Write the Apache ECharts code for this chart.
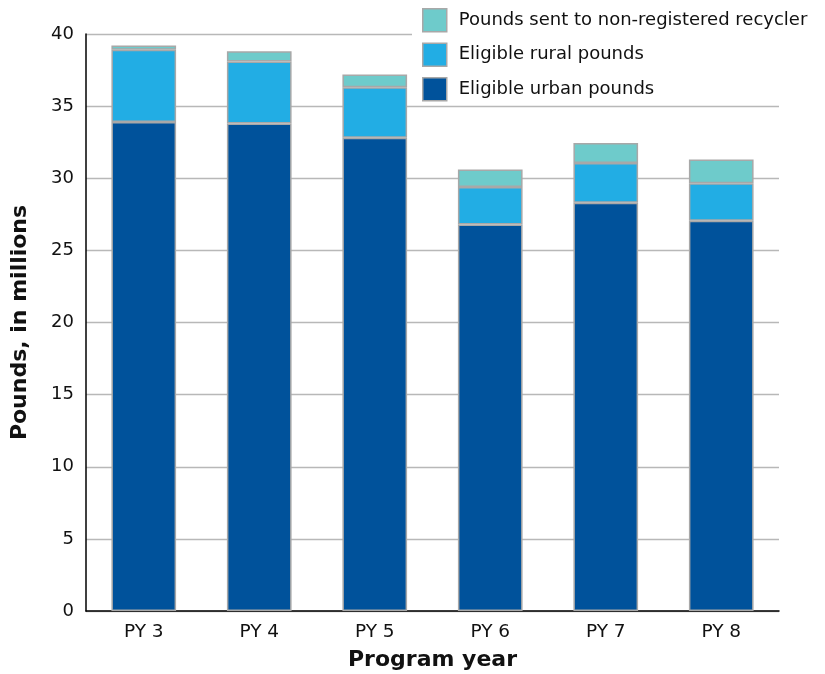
<!DOCTYPE html>
<html><head><meta charset="utf-8">
<script src="https://cdn.jsdelivr.net/npm/echarts@6/dist/echarts.min.js"></script>
<style>html,body{margin:0;padding:0;background:#fff}#c{width:825px;height:674px}</style>
</head><body><div id="c"></div>
<script>
const categories = ['PY 3','PY 4','PY 5','PY 6','PY 7','PY 8'];
const urban = [33.9, 33.8, 32.8, 26.8, 28.3, 27.05];
const rural = [5.0, 4.3, 3.5, 2.6, 2.75, 2.6];
const nonRegistered = [0.3, 0.7, 0.9, 1.2, 1.4, 1.65];
const seriesNames = ['Eligible urban pounds','Eligible rural pounds','Pounds sent to non-registered recycler'];
const colors = ['#00529b','#22ade4','#6ecbcb'];
const font = '"DejaVu Sans", "Open Sans", sans-serif';

const chart = echarts.init(document.getElementById('c'), null, {renderer:'canvas'});
const mk = (name, data, color) => ({
  name, type:'bar', stack:'total', data, barWidth:'56%',
  itemStyle:{color, borderColor:'#a8a8a8', borderWidth:1.5},
  emphasis:{disabled:true}
});
chart.setOption({
  animation:false,
  grid:{left:86, right:46, top:34, bottom:63, containLabel:false, outerBoundsMode:'none'},
  legend:{
    data:[seriesNames[2], seriesNames[1], seriesNames[0]],
    orient:'vertical', left:412, top:8, itemGap:10,
    itemWidth:24, itemHeight:23, backgroundColor:'#fff',
    padding:[0,10,0,10], icon:'rect',
    textStyle:{fontFamily:font, fontSize:18, color:'#111', lineHeight:23, padding:[0,0,0,7]},
    itemStyle:{borderColor:'#a8a8a8', borderWidth:1.5}
  },
  xAxis:{
    type:'category', data:categories,
    axisLine:{lineStyle:{color:'#000', width:1.5}},
    axisTick:{show:false},
    axisLabel:{fontFamily:font, fontSize:18.5, color:'#111', margin:12},
    name:'Program year', nameLocation:'middle', nameGap:38,
    nameTextStyle:{fontFamily:font, fontSize:22, fontWeight:'bold', color:'#111'}
  },
  yAxis:{
    type:'value', min:0, max:40, interval:5,
    axisLine:{show:true, lineStyle:{color:'#000', width:1.5}},
    axisTick:{show:false},
    splitLine:{lineStyle:{color:'#b8b8b8', width:1.3}},
    axisLabel:{fontFamily:font, fontSize:18, color:'#111', margin:12},
    name:'Pounds, in millions', nameLocation:'middle', nameGap:55,
    nameTextStyle:{fontFamily:font, fontSize:22, fontWeight:'bold', color:'#111'}
  },
  series:[mk(seriesNames[0], urban, colors[0]), mk(seriesNames[1], rural, colors[1]), mk(seriesNames[2], nonRegistered, colors[2])]
});
</script></body></html>
